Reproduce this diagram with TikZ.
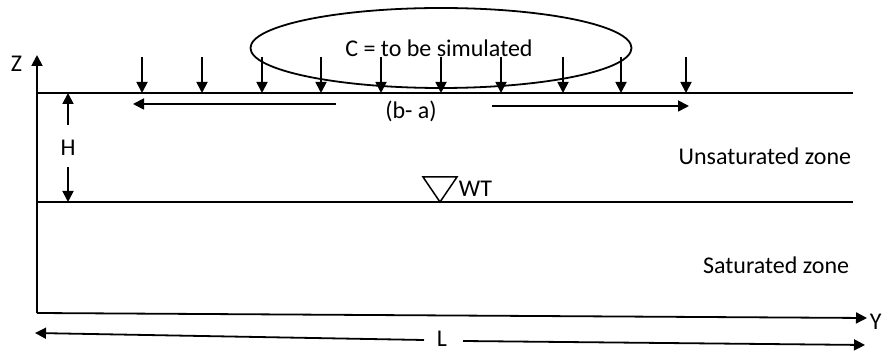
\documentclass[tikz,border=0pt]{standalone}
\usepackage{fontspec}
\setmainfont{Carlito}
\usetikzlibrary{arrows.meta}
\usetikzlibrary{shapes.geometric}
\tikzset{every picture/.style={line width=1.8pt}}
\tikzset{
  zline/.style  ={draw=black, line width=1.8pt},
  zarrow/.style ={-{Triangle[length=11pt, width=11pt]}, line width=1.8pt},
  ztext/.style  ={font=\fontsize{24}{28}\selectfont, inner sep=0pt},
  zcloud/.style ={ellipse, draw=black, line width=1.8pt, minimum width=381pt, minimum height=80pt},
}

\begin{document}
\begin{tikzpicture}[x=1pt, y=-1pt]
        \useasboundingbox (0,0) rectangle (884,352);
        % axes
        \coordinate (O) at (37,313);
        \coordinate (Ztop) at (37,55);
        \coordinate (Yend) at (867,318);
        \draw[zarrow] (O) -- (Ztop);
        \draw[zarrow] (O) -- (Yend);
        \node[ztext, anchor=east] (Z) at (23,64) {Z};
        \node[ztext, anchor=west] (Y) at (869,322) {Y};
        % ground surface and water table
        \coordinate (S1) at (37,93);
        \coordinate (S2) at (853,93);
        \coordinate (W1) at (37,202);
        \coordinate (W2) at (853,202);
        \draw[zline] (S1) -- (S2);
        \draw[zline] (W1) -- (W2);
        % recharge cloud
        \node[zcloud] (cloud) at (441,48) {};
        \node[ztext] (ctext) at (439,48) {C = to be simulated};
        % recharge arrows
        \foreach \x [count=\i] in {142,202,262,321,381,441,501,563,621,686} {
          \coordinate (rt\i) at (\x,57);
          \coordinate (rb\i) at (\x,93);
          \draw[zarrow] (rt\i) -- (rb\i);
        }
        % width of source (b- a)
        \node[ztext] (ba) at (411,111) {(b- a)};
        \coordinate (ba1) at (336,104);
        \coordinate (ba2) at (133,104);
        \coordinate (ba3) at (492,106);
        \coordinate (ba4) at (689,106);
        \draw[zarrow] (ba1) -- (ba2);
        \draw[zarrow] (ba3) -- (ba4);
        % depth H
        \node[ztext] (H) at (68,148) {H};
        \coordinate (h1) at (68,125);
        \coordinate (h2) at (68,93);
        \coordinate (h3) at (68,167);
        \coordinate (h4) at (68,202);
        \draw[zarrow] (h1) -- (h2);
        \draw[zarrow] (h3) -- (h4);
        % water table mark
        \coordinate (t1) at (423,177);
        \coordinate (t2) at (457,177);
        \coordinate (t3) at (440,202);
        \draw[line width=1.5pt, line join=miter] (t1) -- (t2) -- (t3) -- cycle;
        \node[ztext, anchor=west] (WT) at (458,189) {WT};
        % zone labels
        \node[ztext, anchor=east] (unsat) at (852,156) {Unsaturated zone};
        \node[ztext, anchor=east] (sat) at (850,265) {Saturated zone};
        % length L
        \node[ztext] (L) at (442,339) {L};
        \coordinate (l1) at (424,340);
        \coordinate (l2) at (35,333);
        \coordinate (l3) at (463,341);
        \coordinate (l4) at (865,345);
        \draw[zarrow] (l1) -- (l2);
        \draw[zarrow] (l3) -- (l4);
    \end{tikzpicture}
\end{document}
